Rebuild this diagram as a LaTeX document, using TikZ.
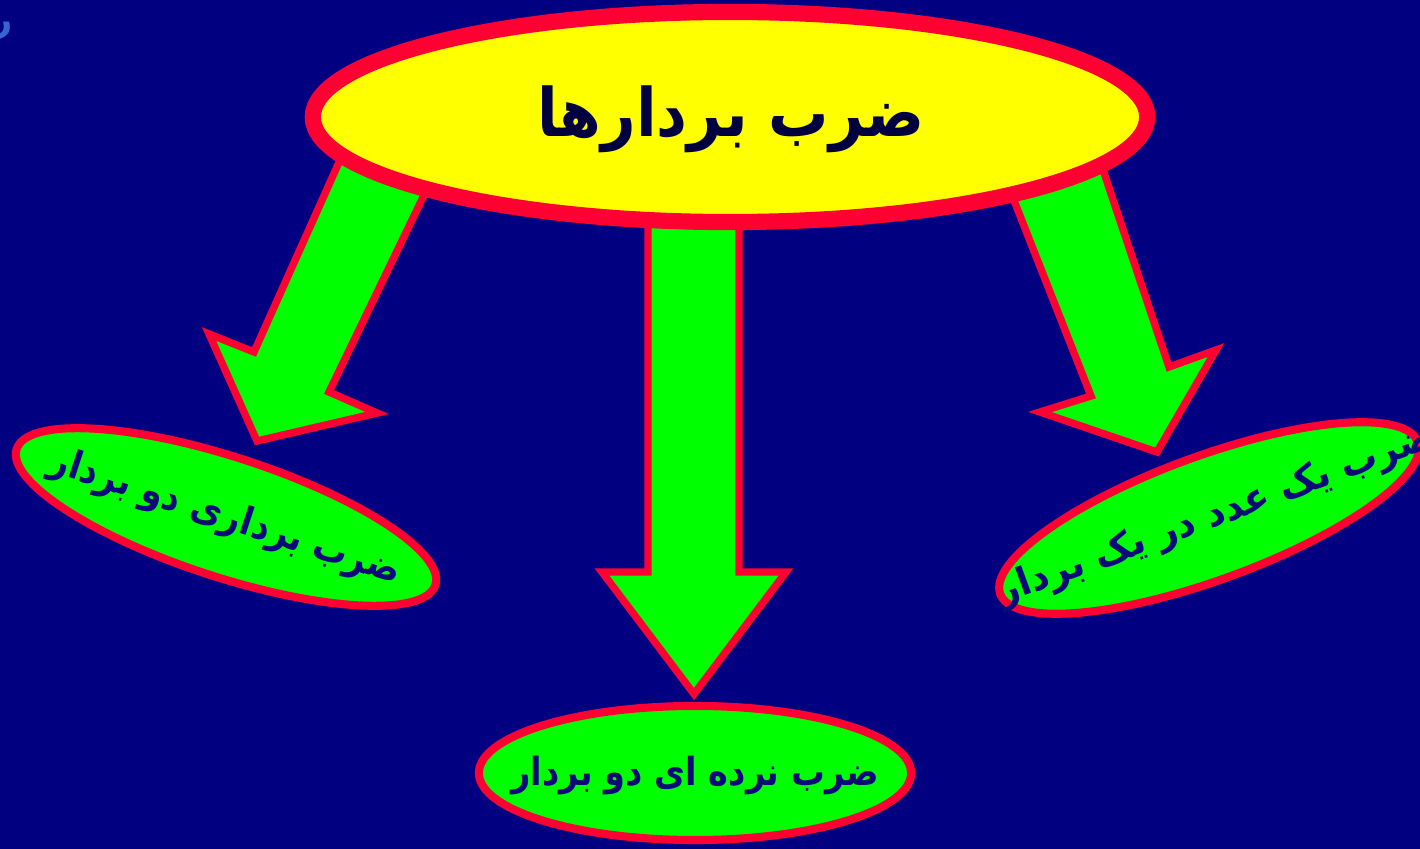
\documentclass[tikz,border=0pt]{standalone}
\usepackage{fontspec}
\TeXXeTstate=1
\newfontfamily\arabicfont[Script=Arabic]{DejaVu Sans}
\usetikzlibrary{shapes.geometric}
\definecolor{bgnavy}{RGB}{0,0,128}
\definecolor{redc}{RGB}{255,0,51}
\definecolor{greenc}{RGB}{0,255,0}
\definecolor{yellowc}{RGB}{255,255,0}
\definecolor{titlec}{RGB}{0,0,64}
\definecolor{subc}{RGB}{10,10,120}
\definecolor{ghostc}{RGB}{50,100,210}
\begin{document}
\begin{tikzpicture}[x=0.01cm,y=-0.01cm,
  bubble/.style={ellipse, draw=redc, fill=greenc, line width=2.3pt, inner sep=0pt},
  topbubble/.style={ellipse, draw=redc, fill=yellowc, line width=4.6pt, inner sep=0pt},
  blockarrow/.style={draw=redc, fill=greenc, line width=2.1pt, line join=miter},
  subtext/.style={font=\arabicfont\bfseries\fontsize{11}{13}\selectfont, text=subc, inner sep=0pt},
  titletext/.style={font=\arabicfont\bfseries\fontsize{19}{23}\selectfont, text=titlec, inner sep=0pt}]
\fill[bgnavy] (0,0) rectangle (1420,849);
\useasboundingbox (0,0) rectangle (1420,849);
\node[font=\arabicfont\bfseries\fontsize{10}{12}\selectfont, text=ghostc, inner sep=0pt] (ghost) at (3,31) {\beginR ر\endR};

% lower ellipses
\node[bubble, minimum width=4.40cm, minimum height=1.20cm, rotate=-18] (left) at (226,517) {};
\node[bubble, minimum width=4.44cm, minimum height=1.24cm, rotate=20] (right) at (1209,518) {};
\node[bubble, minimum width=4.32cm, minimum height=1.34cm] (bottom) at (695,773) {};

% block arrows
\draw[blockarrow] (349,140) -- (254,352) -- (209,334) -- (257,441) -- (377,413) -- (329,392) -- (441,160) -- cycle;
\draw[blockarrow] (648,180) -- (648,572) -- (602,572) -- (694,694) -- (786,572) -- (739,572) -- (739,180) -- cycle;
\draw[blockarrow] (1002,170) -- (1091,396) -- (1040,412) -- (1157,452) -- (1216,350) -- (1169,367) -- (1093,140) -- cycle;

% top ellipse
\node[topbubble, minimum width=8.34cm, minimum height=2.10cm] (top) at (730,117) {};
\node[titletext] (title) at (731,119) {\scalebox{0.9}[1]{\beginR ضرب بردارها\endR}};

% texts
\node[subtext, rotate=-18] (lefttext) at (225,518) {\scalebox{0.9}[1]{\beginR ضرب برداری دو بردار\endR}};
\node[subtext, rotate=20] (righttext) at (1216,516) {\scalebox{0.96}[1]{\beginR ضرب یک عدد در یک بردار\endR}};
\node[subtext] (bottomtext) at (695,776) {\scalebox{0.87}[1]{\beginR ضرب نرده ای دو بردار\endR}};
\end{tikzpicture}
\end{document}
